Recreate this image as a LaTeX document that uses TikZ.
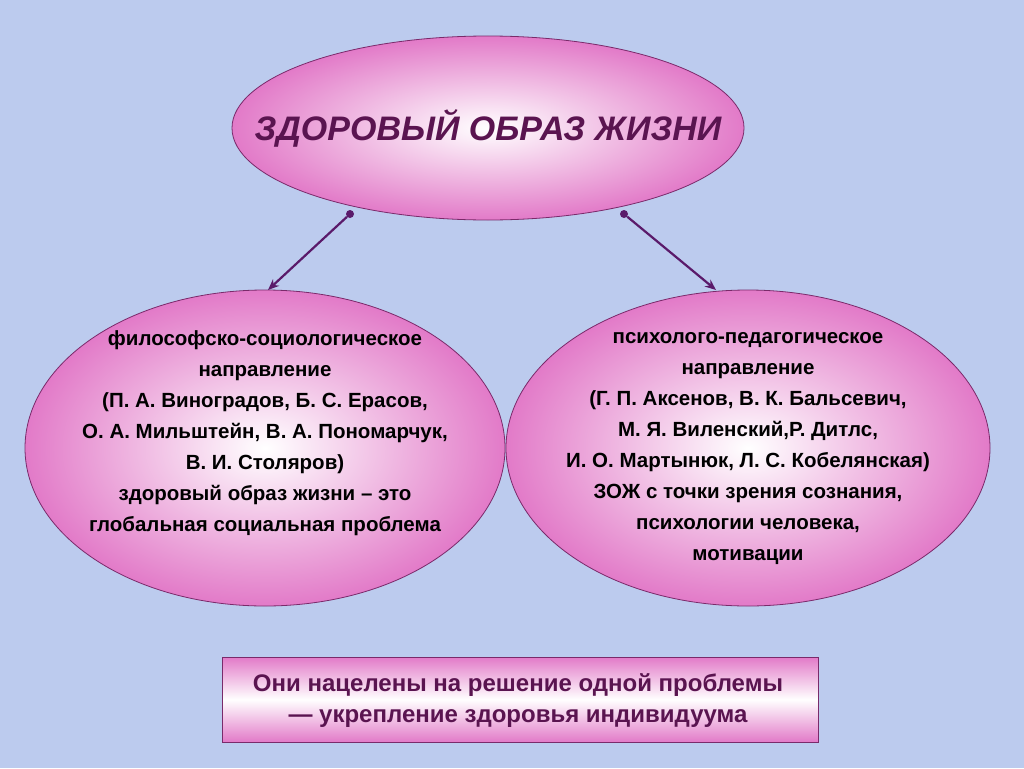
\documentclass[tikz,border=0pt]{standalone}
\usepackage{fontspec}
\setmainfont{Liberation Sans}
\usetikzlibrary{arrows.meta}
\definecolor{bg}{HTML}{BCCBEE}
\definecolor{pk}{HTML}{E27AC8}
\definecolor{ed}{HTML}{7A2A6A}
\definecolor{tt}{HTML}{5A1450}
\definecolor{ar}{HTML}{5A1A6A}
\tikzset{
 oval/.style={draw=ed,line width=0.8pt,inner color=white,outer color=pk},
 body/.style={align=center,font=\bfseries\fontsize{20.5}{31}\selectfont,text=black},
 conn/.style={draw=ar,line width=2.2pt,-{Stealth[length=11pt,width=9pt]}},
 dot/.style={circle,fill=ar,inner sep=0pt,minimum size=8pt}
}
\begin{document}
\begin{tikzpicture}[x=1pt,y=-1pt]
\fill[bg] (0,0) rectangle (1024,768);
\useasboundingbox (0,0) rectangle (1024,768);
\path[oval] (488,128) ellipse [x radius=256,y radius=92];
\node[font=\bfseries\itshape\fontsize{34}{38}\selectfont,text=tt] (top) at (488,128) {ЗДОРОВЫЙ ОБРАЗ ЖИЗНИ};
\path[oval] (265,448) ellipse [x radius=240,y radius=158];
\path[oval] (748,448) ellipse [x radius=242,y radius=158];
\node[body] (l) at (265,433) {философско-социологическое\\направление\\(П. А. Виноградов, Б. С. Ерасов,\\О. А. Мильштейн, В. А. Пономарчук,\\В. И. Столяров)\\здоровый образ жизни – это\\глобальная социальная проблема};
\node[body] (r) at (748,449) {психолого-педагогическое\\направление\\(Г. П. Аксенов, В. К. Бальсевич,\\М. Я. Виленский,Р. Дитлс,\\И. О. Мартынюк, Л. С. Кобелянская)\\ЗОЖ с точки зрения сознания,\\психологии человека,\\мотивации};
\node[dot] (d1) at (350,214) {};
\node[dot] (d2) at (624,214) {};
\coordinate (e1) at (268,290);
\coordinate (e2) at (716,290);
\draw[conn] (d1) -- (e1);
\draw[conn] (d2) -- (e2);
\shade[top color=pk,bottom color=pk,middle color=white,draw=ed,line width=0.8pt] (222,657) rectangle (818,742);
\node[align=center,font=\bfseries\fontsize{24}{31}\selectfont,text=tt] (b) at (518,701) {Они нацелены на решение одной проблемы\\— укрепление здоровья индивидуума};
\end{tikzpicture}
\end{document}
